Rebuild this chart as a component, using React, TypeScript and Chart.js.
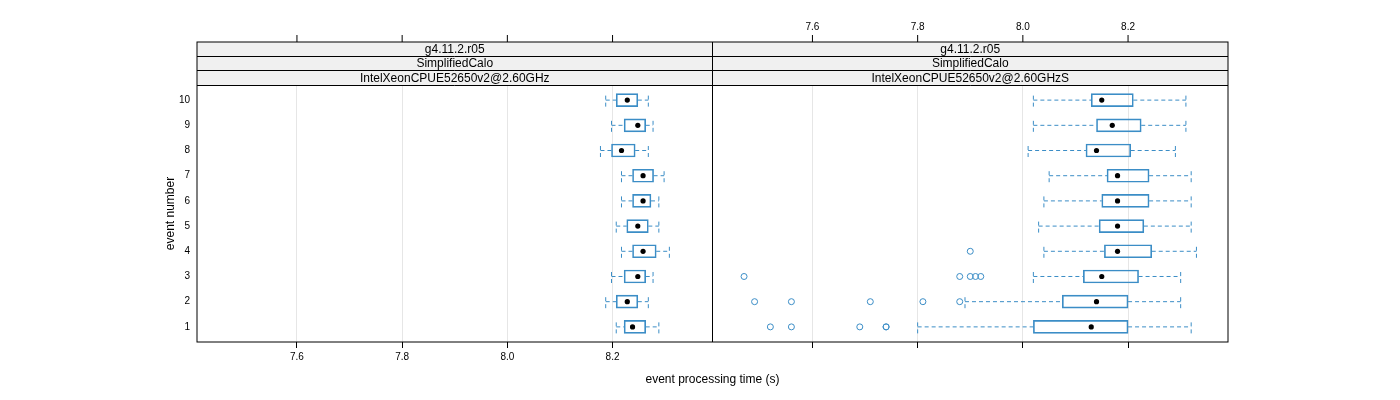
import { useEffect, useRef } from 'react';
import { Chart, registerables } from 'chart.js';

Chart.register(...registerables);

// ---------------- data ----------------
const events = [1, 2, 3, 4, 5, 6, 7, 8, 9, 10];
const xTickValues = [7.6, 7.8, 8.0, 8.2];

const stripsLeft = ['g4.11.2.r05', 'SimplifiedCalo', 'IntelXeonCPUE52650v2@2.60GHz'];
const stripsRight = ['g4.11.2.r05', 'SimplifiedCalo', 'IntelXeonCPUE52650v2@2.60GHzS'];

// left panel (IntelXeonCPUE52650v2@2.60GHz), events 1..10
const lowL = [8.207, 8.187, 8.198, 8.217, 8.207, 8.217, 8.217, 8.177, 8.198, 8.187];
const q1L = [8.222, 8.207, 8.222, 8.238, 8.227, 8.238, 8.238, 8.198, 8.222, 8.207];
const medL = [8.238, 8.228, 8.248, 8.258, 8.248, 8.258, 8.258, 8.217, 8.248, 8.228];
const q3L = [8.263, 8.248, 8.263, 8.283, 8.268, 8.273, 8.278, 8.243, 8.263, 8.248];
const highL = [8.288, 8.268, 8.277, 8.308, 8.288, 8.288, 8.298, 8.268, 8.277, 8.268];

// right panel (IntelXeonCPUE52650v2@2.60GHzS), events 1..10
const lowR = [7.8, 7.89, 8.02, 8.04, 8.03, 8.04, 8.05, 8.01, 8.02, 8.02];
const q1R = [8.02, 8.075, 8.115, 8.155, 8.145, 8.15, 8.16, 8.12, 8.14, 8.13];
const medR = [8.13, 8.14, 8.15, 8.18, 8.18, 8.18, 8.18, 8.14, 8.17, 8.15];
const q3R = [8.2, 8.2, 8.22, 8.245, 8.23, 8.24, 8.24, 8.205, 8.225, 8.21];
const highR = [8.32, 8.3, 8.3, 8.33, 8.32, 8.32, 8.32, 8.29, 8.31, 8.31];
const outliersR = [
  [7.52, 7.56, 7.69, 7.74, 7.74],
  [7.49, 7.56, 7.71, 7.81, 7.88],
  [7.47, 7.88, 7.9, 7.91, 7.92],
  [7.9],
  [],
  [],
  [],
  [],
  [],
  [],
];

// ---------------- style ----------------
const BLUE = '#3b8dc6';
const FONT = "'Liberation Sans', Arial, Helvetica, sans-serif";
const X_MIN = 7.41;
const X_MAX = 8.39;
const Y_MIN = 0.4;
const Y_MAX = 10.6;
const CAP = 0.258;
const STRIP_TOP = 42;

function whiskerPoints(low: number[], q1: number[], q3: number[], high: number[]) {
  const pts: any[] = [];
  events.forEach((e, i) => {
    pts.push({ x: low[i], y: e }, { x: q1[i], y: e }, { x: null, y: e });
    pts.push({ x: q3[i], y: e }, { x: high[i], y: e }, { x: null, y: e });
    pts.push({ x: low[i], y: e - CAP }, { x: low[i], y: e + CAP }, { x: null, y: e });
    pts.push({ x: high[i], y: e - CAP }, { x: high[i], y: e + CAP }, { x: null, y: e });
  });
  return pts;
}

const latticePlugin = {
  id: 'latticeDecor',
  afterDraw(chart: any) {
    const { ctx, chartArea: ca, scales } = chart;
    const xL = scales.xL;
    const xR = scales.xR;
    ctx.save();
    const stripH = (ca.top - STRIP_TOP) / 3;
    const panels: [any, string[]][] = [
      [xL, stripsLeft],
      [xR, stripsRight],
    ];
    panels.forEach(([sc, labels]) => {
      labels.forEach((t, k) => {
        const y0 = STRIP_TOP + k * stripH;
        ctx.fillStyle = '#f0f0f0';
        ctx.fillRect(sc.left, y0, sc.right - sc.left, stripH);
        ctx.fillStyle = '#000';
        ctx.font = `12px ${FONT}`;
        ctx.textAlign = 'center';
        ctx.textBaseline = 'middle';
        ctx.fillText(t, (sc.left + sc.right) / 2, y0 + stripH / 2 + 0.5);
      });
    });
    // strip separators
    ctx.strokeStyle = '#000';
    ctx.lineWidth = 1;
    for (let k = 1; k <= 3; k++) {
      const y = Math.floor(STRIP_TOP + k * stripH) + 0.5;
      ctx.beginPath();
      ctx.moveTo(ca.left, y);
      ctx.lineTo(ca.right, y);
      ctx.stroke();
    }
    // divider between panels
    ctx.beginPath();
    ctx.moveTo(Math.floor(xL.right) + 0.5, STRIP_TOP);
    ctx.lineTo(Math.floor(xL.right) + 0.5, ca.bottom);
    ctx.stroke();
    // outer border
    ctx.strokeRect(ca.left, STRIP_TOP, ca.right - ca.left, ca.bottom - STRIP_TOP);
    // top ticks
    [xL, xR].forEach((sc) => {
      xTickValues.forEach((v) => {
        const x = sc.getPixelForValue(v);
        ctx.beginPath();
        ctx.moveTo(x, STRIP_TOP - 7);
        ctx.lineTo(x, STRIP_TOP);
        ctx.stroke();
      });
    });
    // top labels on right panel
    ctx.font = `10px ${FONT}`;
    ctx.fillStyle = '#000';
    ctx.textAlign = 'center';
    ctx.textBaseline = 'middle';
    xTickValues.forEach((v) => {
      ctx.fillText(v.toFixed(1), xR.getPixelForValue(v), 27);
    });
    // x axis title
    ctx.font = `12px ${FONT}`;
    ctx.fillText('event processing time (s)', (ca.left + ca.right) / 2, 380);
    ctx.restore();
  },
};

function xAxis(showLabels: boolean) {
  return {
    type: 'linear',
    position: 'bottom',
    stack: 'panels',
    offset: false,
    min: X_MIN,
    max: X_MAX,
    afterBuildTicks: (s: any) => {
      s.ticks = xTickValues.map((v) => ({ value: v }));
    },
    afterFit: (s: any) => {
      s.height = 58;
    },
    ticks: {
      display: showLabels,
      autoSkip: false,
      maxRotation: 0,
      padding: 3,
      color: '#000',
      font: { size: 10, family: FONT },
      callback: (v: any) => Number(v).toFixed(1),
    },
    grid: {
      color: '#e6e6e6',
      lineWidth: 1,
      offset: false,
      drawTicks: true,
      tickLength: 6,
      tickColor: '#000',
      tickWidth: 1,
    },
    border: { display: false },
  };
}

export default function App() {
  const ref = useRef<HTMLCanvasElement | null>(null);

  useEffect(() => {
    if (!ref.current) return;
    const chart = new Chart(ref.current, {
      type: 'bar',
      data: {
        datasets: [
          {
            type: 'scatter',
            label: 'median L',
            xAxisID: 'xL',
            yAxisID: 'y',
            order: 0,
            data: events.map((e, i) => ({ x: medL[i], y: e })),
            pointRadius: 2.6,
            pointBackgroundColor: '#000',
            pointBorderWidth: 0,
          },
          {
            type: 'scatter',
            label: 'median R',
            xAxisID: 'xR',
            yAxisID: 'y',
            order: 0,
            data: events.map((e, i) => ({ x: medR[i], y: e })),
            pointRadius: 2.6,
            pointBackgroundColor: '#000',
            pointBorderWidth: 0,
          },
          {
            type: 'scatter',
            label: 'outliers R',
            xAxisID: 'xR',
            yAxisID: 'y',
            order: 0,
            data: events.flatMap((e, i) => outliersR[i].map((v) => ({ x: v, y: e }))),
            pointRadius: 3,
            pointBackgroundColor: 'rgba(0,0,0,0)',
            pointBorderColor: BLUE,
            pointBorderWidth: 1,
          },
          {
            type: 'bar',
            label: 'box L',
            xAxisID: 'xL',
            yAxisID: 'y',
            order: 1,
            grouped: false,
            data: events.map((e, i) => ({ x: [q1L[i], q3L[i]], y: e })),
            backgroundColor: 'rgba(0,0,0,0)',
            borderColor: BLUE,
            borderWidth: 1,
            borderSkipped: false,
            barThickness: 13,
          },
          {
            type: 'bar',
            label: 'box R',
            xAxisID: 'xR',
            yAxisID: 'y',
            order: 1,
            grouped: false,
            data: events.map((e, i) => ({ x: [q1R[i], q3R[i]], y: e })),
            backgroundColor: 'rgba(0,0,0,0)',
            borderColor: BLUE,
            borderWidth: 1,
            borderSkipped: false,
            barThickness: 13,
          },
          {
            type: 'line',
            label: 'whiskers L',
            xAxisID: 'xL',
            yAxisID: 'y',
            order: 2,
            data: whiskerPoints(lowL, q1L, q3L, highL),
            borderColor: BLUE,
            borderWidth: 1,
            borderDash: [4, 3],
            pointRadius: 0,
            spanGaps: false,
            fill: false,
            tension: 0,
          },
          {
            type: 'line',
            label: 'whiskers R',
            xAxisID: 'xR',
            yAxisID: 'y',
            order: 2,
            data: whiskerPoints(lowR, q1R, q3R, highR),
            borderColor: BLUE,
            borderWidth: 1,
            borderDash: [4, 3],
            pointRadius: 0,
            spanGaps: false,
            fill: false,
            tension: 0,
          },
        ] as any,
      },
      options: {
        indexAxis: 'y',
        responsive: false,
        animation: false,
        devicePixelRatio: 1,
        layout: { padding: { left: 159, right: 172, top: 85, bottom: 0 } },
        plugins: { legend: { display: false }, tooltip: { enabled: false } },
        scales: {
          y: {
            type: 'linear',
            position: 'left',
            offset: false,
            min: Y_MIN,
            max: Y_MAX,
            afterBuildTicks: (s: any) => {
              s.ticks = events.map((v) => ({ value: v }));
            },
            afterFit: (s: any) => {
              s.width = 38;
            },
            ticks: {
              padding: 7,
              color: '#000',
              font: { size: 10, family: FONT },
              callback: (v: any) => String(v),
            },
            grid: { display: false, drawTicks: false, offset: false },
            border: { display: false },
            title: {
              display: true,
              text: 'event number',
              color: '#000',
              font: { size: 12, family: FONT },
              padding: { top: 4, bottom: 4 },
            },
          },
          xL: xAxis(true),
          xR: xAxis(false),
        } as any,
      },
      plugins: [latticePlugin],
    } as any);
    return () => chart.destroy();
  }, []);

  return (
    <div style={{ position: 'absolute', left: 0, top: 0, width: 1400, height: 400, background: '#fff' }}>
      <canvas ref={ref} width={1400} height={400} style={{ display: 'block' }} />
    </div>
  );
}
